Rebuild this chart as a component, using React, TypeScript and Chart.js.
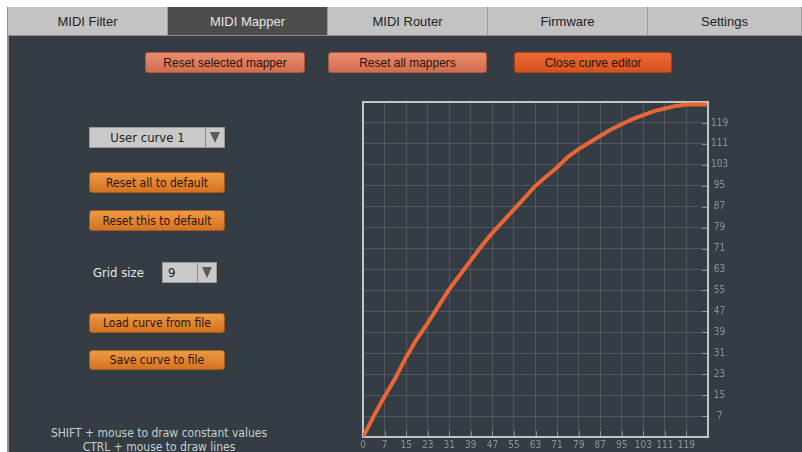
import React, { useEffect, useRef } from "react";
import { Chart, registerables } from "chart.js";

Chart.register(...registerables);

// ---- data ----
const curveX = [0, 4, 8, 12, 16, 20, 24, 28, 32, 36, 40, 44, 48, 52, 56, 60, 64, 68, 72, 76, 80, 84, 88, 92, 96, 100, 104, 108, 112, 116, 120, 124, 127];
const curveY = [0, 8, 15.5, 22.5, 30.5, 37.5, 43.5, 50, 56.5, 62, 67.5, 73, 78, 82.5, 87, 91.5, 96, 99.5, 103, 107, 110, 112.5, 115, 117.5, 119.5, 121.5, 123, 124.5, 125.5, 126.5, 127, 127, 127];
const xTickLabels = ["0", "7", "15", "23", "31", "39", "47", "55", "63", "71", "79", "87", "95", "103", "111", "119"];
const yTickLabels = ["7", "15", "23", "31", "39", "47", "55", "63", "71", "79", "87", "95", "103", "111", "119"];
const tabNames = ["MIDI Filter", "MIDI Mapper", "MIDI Router", "Firmware", "Settings"];
const activeTab = 1;

const PANEL = "#343d44";
const LABEL_FONT = "'DejaVu Sans Condensed', 'DejaVu Sans', sans-serif";
const UI_FONT = "'DejaVu Sans Condensed', 'Liberation Sans', sans-serif";

const framePlugin = {
  id: "frame",
  beforeDatasetsDraw(chart: any) {
    const { ctx, chartArea: a, scales } = chart;
    ctx.save();
    // inward tick marks
    ctx.strokeStyle = "rgba(200,200,200,0.55)";
    ctx.lineWidth = 1;
    scales.x.ticks.forEach((t: any) => {
      const px = Math.round(scales.x.getPixelForValue(t.value)) + 0.5;
      ctx.beginPath();
      ctx.moveTo(px, a.bottom);
      ctx.lineTo(px, a.bottom - 6);
      ctx.stroke();
    });
    scales.y.ticks.forEach((t: any) => {
      const py = Math.round(scales.y.getPixelForValue(t.value)) + 0.5;
      ctx.beginPath();
      ctx.moveTo(a.right, py);
      ctx.lineTo(a.right - 6, py);
      ctx.stroke();
    });
    ctx.strokeStyle = "#c2c4c6";
    ctx.lineWidth = 2;
    ctx.strokeRect(a.left, a.top, a.right - a.left, a.bottom - a.top);
    ctx.restore();
  },
};

function CurveChart() {
  const ref = useRef<HTMLCanvasElement | null>(null);
  useEffect(() => {
    if (!ref.current) return;
    const chart = new Chart(ref.current, {
      type: "line",
      data: {
        datasets: [
          {
            data: curveX.map((x, i) => ({ x, y: curveY[i] })),
            borderColor: "#eb6536",
            borderWidth: 4,
            pointRadius: 0,
            tension: 0,
            borderCapStyle: "round",
            borderJoinStyle: "round",
          },
        ],
      },
      options: {
        animation: false,
        responsive: false,
        maintainAspectRatio: false,
        layout: { padding: { left: 8, top: 8, right: 0, bottom: 0 } },
        plugins: { legend: { display: false }, tooltip: { enabled: false } },
        scales: {
          x: {
            type: "linear",
            position: "bottom",
            min: 0,
            max: 128,
            afterBuildTicks: (s: any) => {
              s.ticks = xTickLabels.map((_, i) => ({ value: i * 8 }));
            },
            afterFit: (s: any) => {
              s.height = 15;
            },
            ticks: {
              autoSkip: false,
              maxRotation: 0,
              padding: 2,
              color: "#8b9298",
              font: { family: LABEL_FONT, size: 10 },
              callback: (_v: any, i: number) => xTickLabels[i],
            },
            grid: { color: "rgba(255,255,255,0.14)", lineWidth: 1, drawTicks: false },
            border: { display: false },
          },
          y: {
            type: "linear",
            position: "right",
            min: 0,
            max: 128,
            afterBuildTicks: (s: any) => {
              s.ticks = yTickLabels.map((_, i) => ({ value: (i + 1) * 8 }));
            },
            afterFit: (s: any) => {
              s.width = 94;
            },
            ticks: {
              autoSkip: false,
              padding: 3,
              crossAlign: "center",
              color: "#8b9298",
              font: { family: LABEL_FONT, size: 10 },
              callback: (_v: any, i: number) => yTickLabels[i],
            },
            grid: { color: "rgba(255,255,255,0.14)", lineWidth: 1, drawTicks: false },
            border: { display: false },
          },
        },
      } as any,
      plugins: [framePlugin],
    });
    return () => chart.destroy();
  }, []);
  return (
    <canvas
      ref={ref}
      width={447}
      height={359}
      style={{ position: "absolute", left: 355, top: 93, width: 447, height: 359 }}
    />
  );
}

function Btn({ x, y, w, h, text, bg, border, color = "#2a1408", font = UI_FONT, size = 12 }: any) {
  return (
    <div
      style={{
        position: "absolute",
        left: x,
        top: y,
        width: w,
        height: h,
        boxSizing: "border-box",
        background: bg,
        border: `1px solid ${border}`,
        borderRadius: 3,
        color,
        fontFamily: font,
        fontSize: size,
        display: "flex",
        alignItems: "center",
        justifyContent: "center",
        whiteSpace: "nowrap",
      }}
    >
      {text}
    </div>
  );
}

function Dropdown({ x, y, w, h, text, arrowW, align = "center" }: any) {
  return (
    <div
      style={{
        position: "absolute",
        left: x,
        top: y,
        width: w,
        height: h,
        boxSizing: "border-box",
        background: "#c9c9c9",
        border: "1px solid #9a9a9a",
        display: "flex",
      }}
    >
      <div
        style={{
          flex: 1,
          display: "flex",
          alignItems: "center",
          justifyContent: align === "center" ? "center" : "flex-start",
          paddingLeft: align === "center" ? 0 : 5,
          fontFamily: UI_FONT,
          fontSize: 13,
          color: "#222",
        }}
      >
        {text}
      </div>
      <div
        style={{
          width: arrowW,
          borderLeft: "1px solid #8a8a8a",
          display: "flex",
          alignItems: "center",
          justifyContent: "center",
        }}
      >
        <div
          style={{
            width: 0,
            height: 0,
            borderLeft: "5px solid transparent",
            borderRight: "5px solid transparent",
            borderTop: "11px solid #5a5a5a",
          }}
        />
      </div>
    </div>
  );
}

export default function App() {
  const salmon = "linear-gradient(#ea8d6e, #cf6d4d)";
  const orange = "linear-gradient(#ee9a45, #d4721f)";
  return (
    <div
      style={{
        position: "fixed",
        left: 0,
        top: 0,
        width: 802,
        height: 452,
        background: "#ffffff",
        overflow: "hidden",
      }}
    >
      <div
        style={{
          position: "absolute",
          left: 7,
          top: 7,
          width: 795,
          height: 445,
          background: PANEL,
          borderLeft: "2px solid #8c8c8c",
          boxSizing: "border-box",
        }}
      />
      {tabNames.map((t, i) => (
        <div
          key={t}
          style={{
            position: "absolute",
            left: 8 + i * 160,
            top: 7,
            width: i === tabNames.length - 1 ? 154 : 160,
            height: 29,
            boxSizing: "border-box",
            background: i === activeTab ? "#4c4c4c" : "#c3c3c3",
            borderRight: "1px solid #9a9a9a",
            borderBottom: "1px solid #8a8a8a",
            color: i === activeTab ? "#e6e6e6" : "#222",
            fontFamily: "'Liberation Sans', Arial, sans-serif",
            fontSize: 13,
            display: "flex",
            alignItems: "center",
            justifyContent: "center",
          }}
        >
          {t}
        </div>
      ))}
      <Btn x={145} y={52} w={160} h={21} text="Reset selected mapper" bg={salmon} border="#a9573d" font="'Liberation Sans', Arial, sans-serif" />
      <Btn x={328} y={52} w={159} h={21} text="Reset all mappers" bg={salmon} border="#a9573d" font="'Liberation Sans', Arial, sans-serif" />
      <Btn x={514} y={52} w={158} h={21} text="Close curve editor" bg="linear-gradient(#ef6a34, #d5521d)" border="#a8431a" font="'Liberation Sans', Arial, sans-serif" />

      <Dropdown x={89} y={127} w={136} h={21} text="User curve 1" arrowW={18} />
      <Btn x={89} y={172} w={136} h={21} text="Reset all to default" bg={orange} border="#a85a1a" />
      <Btn x={89} y={210} w={136} h={21} text="Reset this to default" bg={orange} border="#a85a1a" />
      <div
        style={{
          position: "absolute",
          left: 93,
          top: 264,
          height: 18,
          lineHeight: "18px",
          fontFamily: UI_FONT,
          fontSize: 13,
          color: "#e8e8e8",
        }}
      >
        Grid size
      </div>
      <Dropdown x={162} y={262} w={55} h={21} text="9" arrowW={18} align="left" />
      <Btn x={89} y={313} w={136} h={20} text="Load curve from file" bg={orange} border="#a85a1a" />
      <Btn x={89} y={350} w={136} h={20} text="Save curve to file" bg={orange} border="#a85a1a" />
      <div
        style={{
          position: "absolute",
          left: 10,
          top: 426,
          width: 298,
          textAlign: "center",
          fontFamily: UI_FONT,
          fontSize: 12,
          lineHeight: "14px",
          color: "#c8cdd0",
        }}
      >
        SHIFT + mouse to draw constant values
        <br />
        CTRL + mouse to draw lines
      </div>
      <CurveChart />
    </div>
  );
}
